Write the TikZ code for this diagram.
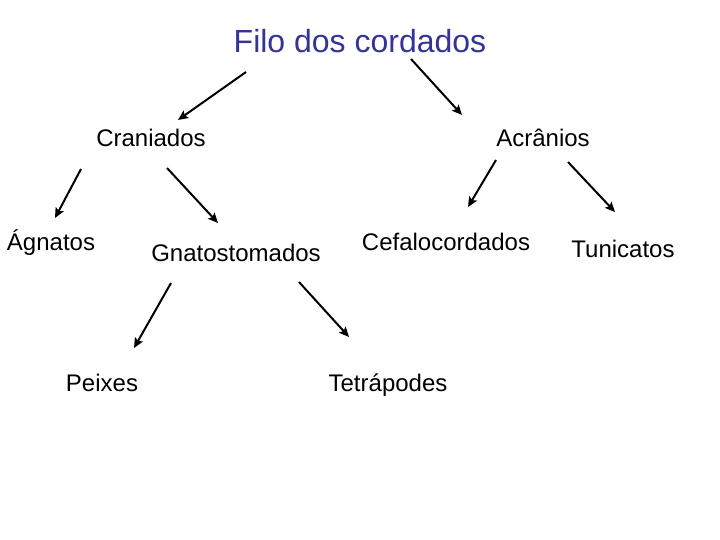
\documentclass[tikz,border=0pt]{standalone}
\usepackage{fontspec}
\setmainfont{Liberation Sans}
\usetikzlibrary{arrows.meta}
\definecolor{titleblue}{HTML}{333399}
\begin{document}
\begin{tikzpicture}[x=1pt,y=-1pt,
  lbl/.style={anchor=base,inner sep=0pt,font=\fontsize{24}{28}\selectfont},
  ttl/.style={anchor=base,inner sep=0pt,font=\fontsize{32}{38}\selectfont,text=titleblue},
  arr/.style={line width=2pt,-{Stealth[length=10pt,width=9pt,inset=2pt]}}]
\useasboundingbox[fill=white] (0,0) rectangle (720,540);
\node[ttl] (filo) at (360,53) {Filo dos cordados};
\node[lbl] (cran) at (151,147) {Craniados};
\node[lbl] (acra) at (543,147) {Acrânios};
\node[lbl] (agna) at (51,250) {Ágnatos};
\node[lbl] (gnat) at (236,261) {Gnatostomados};
\node[lbl] (cefa) at (446,251) {Cefalocordados};
\node[lbl] (tuni) at (623,257) {Tunicatos};
\node[lbl] (peix) at (102,391) {Peixes};
\node[lbl] (tetr) at (388,391) {Tetrápodes};
% arrow endpoints
\coordinate (a1s) at (246,72);  \coordinate (a1e) at (178,120);
\coordinate (a2s) at (411,59);  \coordinate (a2e) at (462,115);
\coordinate (a3s) at (81,169);  \coordinate (a3e) at (55,218);
\coordinate (a4s) at (167,168); \coordinate (a4e) at (218,223);
\coordinate (a5s) at (496,160); \coordinate (a5e) at (468,207);
\coordinate (a6s) at (568,162); \coordinate (a6e) at (615,212);
\coordinate (a7s) at (171,283); \coordinate (a7e) at (134,348);
\coordinate (a8s) at (299,282); \coordinate (a8e) at (349,337);
\draw[arr] (a1s) -- (a1e);
\draw[arr] (a2s) -- (a2e);
\draw[arr] (a3s) -- (a3e);
\draw[arr] (a4s) -- (a4e);
\draw[arr] (a5s) -- (a5e);
\draw[arr] (a6s) -- (a6e);
\draw[arr] (a7s) -- (a7e);
\draw[arr] (a8s) -- (a8e);
\end{tikzpicture}
\end{document}
